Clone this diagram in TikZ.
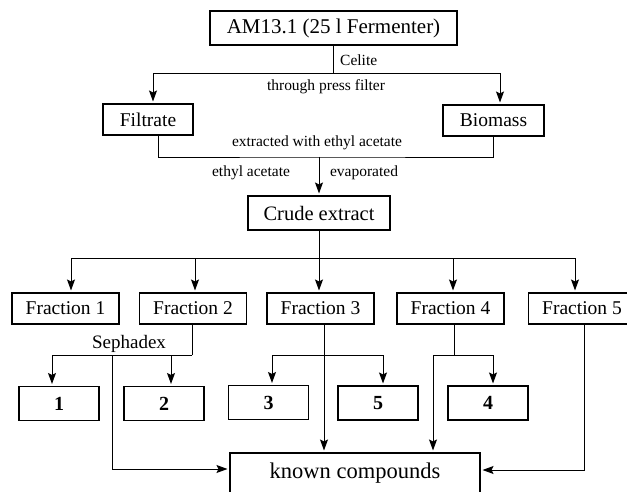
\documentclass[tikz,border=0pt]{standalone}
\usepackage{fontspec}
\setmainfont{Liberation Serif}
\usetikzlibrary{arrows.meta}
\begin{document}
\begin{tikzpicture}[x=1pt,y=-1pt,
  box/.style={draw, line width=1.1pt, inner sep=0pt, align=center},
  conn/.style={line width=0.9pt},
  arr/.style={conn, -{Stealth[length=11pt,width=8pt,inset=2pt]}, shorten >=2pt},
  lbl/.style={inner sep=0pt, font=\fontsize{15.5}{16}\selectfont},
  fr/.style={box, minimum width=107pt, minimum height=31pt, font=\fontsize{19.5}{20}\selectfont},
  num/.style={box, minimum width=80pt, minimum height=34pt, font=\fontsize{20}{20}\selectfont\bfseries},
]
\useasboundingbox (0,0) rectangle (627,492);
\clip (0,0) rectangle (627,492);

% boxes
\node[box, minimum width=247pt, minimum height=34pt, font=\fontsize{21}{21}\selectfont] (am) at (333.5,28) {AM13.1 (25 l Fermenter)};
\node[box, minimum width=90pt, minimum height=31pt, font=\fontsize{19.5}{20}\selectfont] (filtrate) at (148,119.5) {Filtrate};
\node[box, minimum width=101pt, minimum height=31pt, font=\fontsize{19.5}{20}\selectfont] (biomass) at (493.5,120.5) {Biomass};
\node[box, minimum width=142pt, minimum height=34pt, font=\fontsize{20.5}{21}\selectfont] (crude) at (319,213) {Crude extract};

\node[fr] (f1) at (65.5,308.5) {Fraction 1};
\node[fr] (f2) at (193,308.5) {Fraction 2};
\node[fr] (f3) at (320.5,308.5) {Fraction 3};
\node[fr] (f4) at (450.5,308.5) {Fraction 4};
\node[fr] (f5) at (582,308.5) {Fraction 5};

\node[num] (b1) at (59,403.5) {1};
\node[num] (b2) at (164,403.5) {2};
\node[num] (b3) at (268.5,402.5) {3};
\node[num] (b5) at (378,403) {5};
\node[num] (b4) at (488,403) {4};

\node[box, minimum width=250pt, minimum height=40pt, font=\fontsize{22.5}{23}\selectfont] (known) at (355,473) {known compounds};

% labels
\node[lbl, anchor=west] (celite) at (340,60) {Celite};
\node[lbl] (press) at (326,87) {through press filter};
\node[lbl] (extr) at (317,143) {extracted with ethyl acetate};
\node[lbl] (ea) at (251,173) {ethyl acetate};
\node[lbl] (evap) at (364,173) {evaporated};
\node[inner sep=0pt, font=\fontsize{19}{19}\selectfont] (seph) at (129,344) {Sephadex};

% junctions
\coordinate (j1) at (333.5,73);
\coordinate (j2) at (319,157);
\coordinate (j3) at (319,258);
\coordinate (j4) at (192,355);
\coordinate (js) at (112,355);
\coordinate (j5) at (324,355);
\coordinate (j6) at (454,355);

% connectors
\draw[conn] (am.south) -- (j1);
\draw[arr] (j1) -| ([xshift=5pt]filtrate.north);
\draw[arr] (j1) -| ([xshift=6.5pt]biomass.north);

\draw[conn] ([xshift=10pt]filtrate.south) |- (j2) -| (biomass.south);
\draw[arr] (j2) -- (crude.north);

\draw[conn] (crude.south) -- (j3);
\draw[arr] (j3) -| ([xshift=5.5pt]f1.north);
\draw[arr] (j3) -| ([xshift=2pt]f2.north);
\draw[arr] (j3) -- (j3 |- f3.north);
\draw[arr] (j3) -| ([xshift=2.5pt]f4.north);
\draw[arr] (j3) -| ([xshift=-7pt]f5.north);

\draw[conn] ([xshift=-1pt]f2.south) -- (j4);
\draw[arr] (j4) -| ([xshift=-7pt]b1.north);
\draw[arr] (j4) -| ([xshift=7pt]b2.north);
\draw[arr] (js) |- ([yshift=4pt]known.west);

\draw[arr] ([xshift=3.5pt]f3.south) -- ([xshift=3.5pt]f3.south |- known.north);
\draw[arr] (j5) -| ([xshift=3.5pt]b3.north);
\draw[arr] (j5) -| ([xshift=5pt]b5.north);

\draw[conn] ([xshift=3.5pt]f4.south) -- (j6);
\draw[arr] (j6) -| ([xshift=78pt]known.north);
\draw[arr] (j6) -| ([xshift=5pt]b4.north);

\draw[arr] ([xshift=2pt]f5.south) |- ([yshift=3pt]known.east);
\end{tikzpicture}
\end{document}
